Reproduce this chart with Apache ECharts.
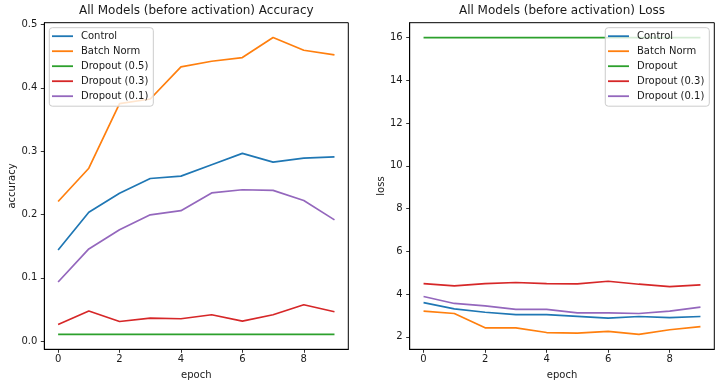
<!DOCTYPE html>
<html>
<head>
<meta charset="utf-8">
<script src="https://cdn.jsdelivr.net/npm/echarts@6/dist/echarts.min.js"></script>
<style>
html,body{margin:0;padding:0;background:#fff;}
#main{width:724px;height:387px;}
</style>
</head>
<body>
<div id="main"></div>
<script>
const epochs = [0,1,2,3,4,5,6,7,8,9];
const xTicks = [0,2,4,6,8];
const accTicks = [0,0.1,0.2,0.3,0.4,0.5];
const lossTicks = [2,4,6,8,10,12,14,16];

const accNames = ['Control','Batch Norm','Dropout (0.5)','Dropout (0.3)','Dropout (0.1)'];
const lossNames = ['Control','Batch Norm','Dropout','Dropout (0.3)','Dropout (0.1)'];
const colors = ['#1f77b4','#ff7f0e','#2ca02c','#d62728','#9467bd'];

const accControl = [0.144,0.2035,0.2335,0.2568,0.2605,0.2785,0.2964,0.2826,0.289,0.291];
const accBatchNorm = [0.2204,0.273,0.375,0.3823,0.433,0.442,0.4478,0.4794,0.4593,0.452];
const accDrop05 = [0.0105,0.0105,0.0105,0.0105,0.0105,0.0105,0.0105,0.0105,0.0105,0.0105];
const accDrop03 = [0.0263,0.0475,0.031,0.0364,0.0353,0.0416,0.0316,0.0416,0.0574,0.0464];
const accDrop01 = [0.0933,0.1456,0.176,0.1994,0.206,0.234,0.239,0.238,0.222,0.1915];

const lossControl = [3.60,3.31,3.15,3.04,3.04,2.96,2.87,2.95,2.90,2.95];
const lossBatchNorm = [3.20,3.09,2.42,2.42,2.20,2.17,2.25,2.11,2.33,2.48];
const lossDrop05 = [16.0,16.0,16.0,16.0,16.0,16.0,16.0,16.0,16.0,16.0];
const lossDrop03 = [4.49,4.385,4.49,4.54,4.49,4.48,4.60,4.46,4.35,4.43];
const lossDrop01 = [3.885,3.56,3.45,3.28,3.28,3.12,3.12,3.09,3.20,3.385];

const accSeries = [accControl,accBatchNorm,accDrop05,accDrop03,accDrop01];
const lossSeries = [lossControl,lossBatchNorm,lossDrop05,lossDrop03,lossDrop01];

const FONT = 'DejaVu Sans';
const TXT = '#1a1a1a';

function pairs(vals){ return epochs.map((e,i)=>[e,vals[i]]); }

function range(vals){
  let mn = Infinity, mx = -Infinity;
  vals.forEach(a=>a.forEach(v=>{mn=Math.min(mn,v);mx=Math.max(mx,v);}));
  const m = (mx-mn)*0.05;
  return [mn-m, mx+m];
}
const accR = range(accSeries);
const lossR = range(lossSeries);

const grids = [
  {left:44.3, top:22.7, width:304, height:326.6},
  {left:409.7, top:22.7, width:304.6, height:326.6}
];

function xAxis(gi){
  return {
    type:'value', gridIndex:gi, min:-0.45, max:9.45, position:'bottom',
    name:'epoch', nameLocation:'middle', nameGap:21,
    nameTextStyle:{fontFamily:FONT,fontSize:10,color:TXT},
    axisLine:{show:true,onZero:false,lineStyle:{color:'#000',width:1}},
    axisTick:{show:true,inside:false,length:3.5,customValues:xTicks,lineStyle:{color:'#000',width:0.8}},
    axisLabel:{show:true,margin:5.5,customValues:xTicks,fontFamily:FONT,fontSize:10,color:TXT},
    splitLine:{show:false}
  };
}
function yAxis(gi,r,ticks,name,fmt){
  return {
    type:'value', gridIndex:gi, min:r[0], max:r[1], position:'left',
    name:name, nameLocation:'middle', nameGap:fmt?27:22, nameRotate:90,
    nameTextStyle:{fontFamily:FONT,fontSize:10,color:TXT},
    axisLine:{show:true,onZero:false,lineStyle:{color:'#000',width:1}},
    axisTick:{show:true,inside:false,length:3.5,customValues:ticks,lineStyle:{color:'#000',width:0.8}},
    axisLabel:{show:true,margin:7,customValues:ticks,fontFamily:FONT,fontSize:10,color:TXT,
      formatter:function(v){return fmt?v.toFixed(1):String(Math.round(v));}},
    splitLine:{show:false}
  };
}

const series = [];
accSeries.forEach((s,i)=>series.push({
  name:accNames[i], type:'line', xAxisIndex:0, yAxisIndex:0, data:pairs(s),
  showSymbol:false, symbol:'none', color:colors[i], lineStyle:{width:1.7,color:colors[i]}, z:2
}));
lossSeries.forEach((s,i)=>series.push({
  name:lossNames[i], type:'line', xAxisIndex:1, yAxisIndex:1, data:pairs(s),
  showSymbol:false, symbol:'none', color:colors[i], lineStyle:{width:1.7,color:colors[i]}, z:2
}));

function legend(names,pos){
  return Object.assign({
    data:names.map(n=>({name:n,icon:'rect'})), orient:'vertical',
    itemWidth:21, itemHeight:1.8, itemGap:3,
    padding:[2.5,5,4,2.7],
    backgroundColor:'rgba(255,255,255,0.8)', borderColor:'#cccccc', borderWidth:1, borderRadius:3,
    textStyle:{fontFamily:FONT,fontSize:10,color:TXT,lineHeight:12,padding:[0,0,0,3]},
    selectedMode:false, z:5
  },pos);
}

const chart = echarts.init(document.getElementById('main'),null,{renderer:'canvas'});
chart.setOption({
  animation:false,
  backgroundColor:'#fff',
  title:[
    {text:'All Models (before activation) Accuracy', left:196.3, top:5, textAlign:'center', padding:0,
     textStyle:{fontFamily:FONT,fontSize:12,fontWeight:'normal',color:TXT}},
    {text:'All Models (before activation) Loss', left:562, top:5, textAlign:'center', padding:0,
     textStyle:{fontFamily:FONT,fontSize:12,fontWeight:'normal',color:TXT}}
  ],
  grid:grids.map(g=>Object.assign({show:true,borderColor:'#000',borderWidth:1,backgroundColor:'transparent'},g)),
  xAxis:[xAxis(0),xAxis(1)],
  yAxis:[yAxis(0,accR,accTicks,'accuracy',true), yAxis(1,lossR,lossTicks,'loss',false)],
  legend:[legend(accNames,{left:49.3,top:27.7}), legend(lossNames,{right:14.7,top:27.7})],
  series:series
});
</script>
</body>
</html>
